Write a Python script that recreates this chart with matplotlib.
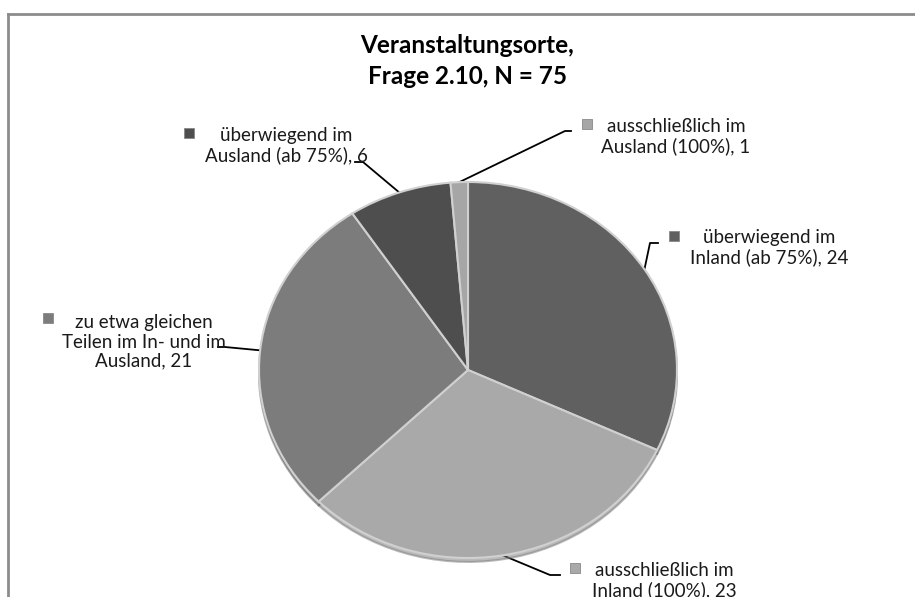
import matplotlib
matplotlib.use("Agg")
import matplotlib.pyplot as plt
import numpy as np

plt.rcParams['font.family'] = ['Lato', 'DejaVu Sans']

# Data (clockwise from 12 o'clock)
categories = [
    "überwiegend im\nInland (ab 75%)",
    "ausschließlich im\nInland (100%)",
    "zu etwa gleichen\nTeilen im In- und im\nAusland",
    "überwiegend im\nAusland (ab 75%)",
    "ausschließlich im\nAusland (100%)",
]
values = [24, 23, 21, 6, 1]
colors = ['#606060', '#a9a9a9', '#7c7c7c', '#4e4e4e', '#a6a6a6']
title = "Veranstaltungsorte,\nFrage 2.10, N = 75"

# label layout in pixels: text centre, marker, leader elbow, leader end
text_pos = [(769, 248), (664, 581), (144, 342), (286, 146), (676, 137)]
marker_pos = [(674, 236), (575, 568), (48, 318), (189, 133), (587, 124)]
elbows = [(650, 243), (550, 575), (225, 347), (363, 162), (565, 131)]
ends = [(658, 243), (560, 575), (218, 347), (355, 162), (571, 131)]

W, H = 915, 597
fig = plt.figure(figsize=(W / 100, H / 100), dpi=100)

# overlay axes in pixel coordinates
ov = fig.add_axes([0, 0, 1, 1])
ov.set_xlim(0, W)
ov.set_ylim(H, 0)
ov.axis('off')

# pie axes stretched to an ellipse
pax = fig.add_axes([259 / W, (H - 558) / H, 418 / W, 376 / H])
wedges, _ = pax.pie(values, colors=colors, startangle=90, counterclock=False,
                    wedgeprops=dict(edgecolor='#d0d0d0', linewidth=1.5),
                    shadow=dict(ox=0.0, oy=-0.015, shade=0.3))
pax.set_aspect('auto')
pax.set_xlim(-1, 1)
pax.set_ylim(-1, 1)
pax.axis('off')

fig.canvas.draw()
to_ov = ov.transData.inverted()

for i, w in enumerate(wedges):
    mid = np.deg2rad((w.theta1 + w.theta2) / 2)
    disp = pax.transData.transform((np.cos(mid), np.sin(mid)))
    ex, ey = to_ov.transform(disp)
    ov.plot([ex, elbows[i][0], ends[i][0]], [ey, elbows[i][1], ends[i][1]],
            color='black', lw=1.3, zorder=3)
    ov.plot(*marker_pos[i], marker='s', ms=7, color=colors[i],
            mec='#888888', mew=0.6, zorder=4)
    ov.text(text_pos[i][0], text_pos[i][1], f"{categories[i]}, {values[i]}",
            ha='center', va='center', multialignment='center',
            fontsize=13.5, color='#1a1a1a', linespacing=1.15, zorder=4)

ov.text(467, 61, title, ha='center', va='center', fontsize=17.5,
        fontweight='bold', color='black', linespacing=1.4)

# chart frame (only top and left edges are visible)
ov.plot([8, 8], [H, 14], color='#8c8c8c', lw=2)
ov.plot([8, W], [14, 14], color='#8c8c8c', lw=2)

fig.savefig('out.png', dpi=100)
